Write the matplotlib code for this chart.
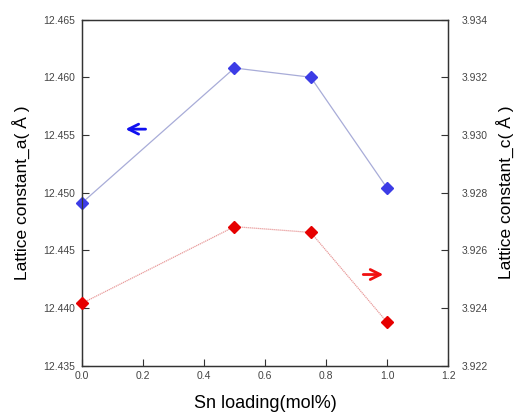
import matplotlib
matplotlib.use("Agg")
import matplotlib.pyplot as plt

plt.rcParams["font.family"] = ["Liberation Sans", "DejaVu Sans"]

sn_loading = [0.0, 0.5, 0.75, 1.0]
lattice_a = [12.4491, 12.4608, 12.4600, 12.4504]
lattice_c = [3.92416, 3.92682, 3.92662, 3.92351]

x_ticks = [0.0, 0.2, 0.4, 0.6, 0.8, 1.0, 1.2]
a_ticks = [12.435, 12.440, 12.445, 12.450, 12.455, 12.460, 12.465]
c_ticks = [3.922, 3.924, 3.926, 3.928, 3.930, 3.932, 3.934]

fig = plt.figure(figsize=(5.18, 4.16), dpi=100)
ax = fig.add_axes([0.158, 0.121, 0.707, 0.832])
ax2 = ax.twinx()

ax.plot(sn_loading, lattice_a, color="#a8acd8", lw=0.9, zorder=2)
ax.plot(sn_loading, lattice_a, ls="none", marker="D", ms=6, color="#3c3ce6",
        markeredgecolor="#3c3ce6", zorder=3, clip_on=False)
ax2.plot(sn_loading, lattice_c, color="#e89a9a", lw=0.9, ls=(0, (1, 0.6)), zorder=2)
ax2.plot(sn_loading, lattice_c, ls="none", marker="D", ms=6, color="#e60000",
         markeredgecolor="#e60000", zorder=3, clip_on=False)

ax.set_xlim(0, 1.2)
ax.set_ylim(12.435, 12.465)
ax2.set_ylim(3.922, 3.934)
ax.set_xticks(x_ticks)
ax.set_xticklabels([f"{v:.1f}" for v in x_ticks])
ax.set_yticks(a_ticks)
ax.set_yticklabels([f"{v:.3f}" for v in a_ticks])
ax2.set_yticks(c_ticks)
ax2.set_yticklabels([f"{v:.3f}" for v in c_ticks])

for a in (ax, ax2):
    a.tick_params(direction="in", length=5, width=0.8, colors="#333333",
                  labelsize=7.5, labelcolor="#444444")
    for s in a.spines.values():
        s.set_color("#333333")
        s.set_linewidth(0.9)
ax.tick_params(axis="x", pad=4)
ax.tick_params(axis="y", pad=5)
ax2.tick_params(axis="y", pad=10)

ax.set_xlabel("Sn loading(mol%)", fontsize=13, labelpad=10)
ax.set_ylabel("Lattice constant_a( Å )", fontsize=12.5, labelpad=9)
ax2.set_ylabel("Lattice constant_c( Å )", fontsize=12.5, labelpad=6)

# direction arrows pointing to each series' axis
ax.annotate("", xy=(0.134, 12.4555), xytext=(0.218, 12.4555),
            arrowprops=dict(arrowstyle="->", color="#1010f0", lw=2, mutation_scale=18))
ax.annotate("", xy=(0.997, 12.4429), xytext=(0.913, 12.4429),
            arrowprops=dict(arrowstyle="->", color="#f01010", lw=2, mutation_scale=18))

fig.savefig("out.png", dpi=100)
